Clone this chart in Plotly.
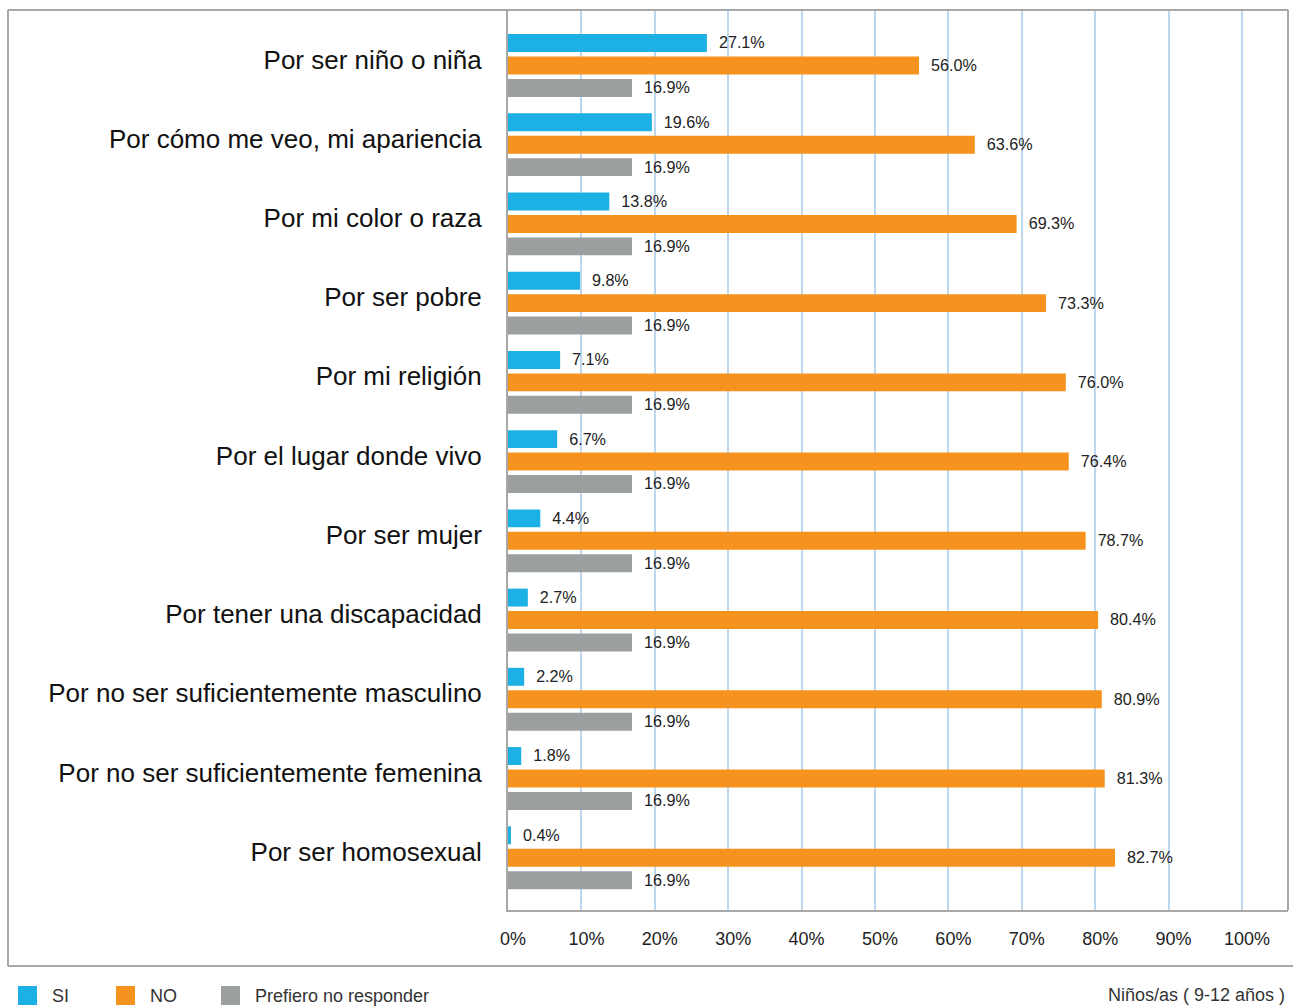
import plotly.graph_objects as go

categories = [
    "Por ser niño o niña",
    "Por cómo me veo, mi apariencia",
    "Por mi color o raza",
    "Por ser pobre",
    "Por mi religión",
    "Por el lugar donde vivo",
    "Por ser mujer",
    "Por tener una discapacidad",
    "Por no ser suficientemente masculino",
    "Por no ser suficientemente femenina",
    "Por ser homosexual",
]
si_values = [27.1, 19.6, 13.8, 9.8, 7.1, 6.7, 4.4, 2.7, 2.2, 1.8, 0.4]
no_values = [56.0, 63.6, 69.3, 73.3, 76.0, 76.4, 78.7, 80.4, 80.9, 81.3, 82.7]
nr_values = [16.9] * 11
series_names = ["SI", "NO", "Prefiero no responder"]
series_colors = ["#1cb0e4", "#f6931f", "#9c9fa0"]
tick_vals = [0, 10, 20, 30, 40, 50, 60, 70, 80, 90, 100]
tick_text = ["0%", "10%", "20%", "30%", "40%", "50%", "60%", "70%", "80%", "90%", "100%"]
note = "Niños/as ( 9-12 años )"

FONT = "Liberation Sans"
W, H = 1302, 1006
L, R, T, B = 508, 14, 10, 96

fig = go.Figure()
for name, vals, col in zip(series_names, [si_values, no_values, nr_values], series_colors):
    fig.add_trace(go.Bar(
        y=categories, x=vals, name=name, orientation="h",
        marker=dict(color=col, line=dict(width=0)),
        text=vals, texttemplate="  %{x:.1f}%", textposition="outside",
        textfont=dict(family=FONT, size=18, color="#222222"),
        cliponaxis=False, showlegend=False,
    ))

pw = W - L - R
ph = H - T - B

def px2paper_x(px):
    return (px - L) / pw

def px2paper_y(py):
    return (H - B - py) / ph

line_col = "#a8a8a8"
shapes = [
    dict(type="line", xref="paper", yref="paper", x0=px2paper_x(8), x1=px2paper_x(1288),
         y0=px2paper_y(10), y1=px2paper_y(10), line=dict(color=line_col, width=2)),
    dict(type="line", xref="paper", yref="paper", x0=px2paper_x(8), x1=px2paper_x(8),
         y0=px2paper_y(10), y1=px2paper_y(966), line=dict(color=line_col, width=2)),
    dict(type="line", xref="paper", yref="paper", x0=px2paper_x(8), x1=px2paper_x(1293),
         y0=px2paper_y(966), y1=px2paper_y(966), line=dict(color=line_col, width=2)),
    dict(type="line", xref="paper", yref="paper", x0=px2paper_x(1288), x1=px2paper_x(1288),
         y0=px2paper_y(10), y1=px2paper_y(910), line=dict(color=line_col, width=2)),
]

annotations = []
# legend (manual, to match the square swatches)
legend_swatch_x = [18, 116, 221]
legend_text_x = [50, 148, 253]
for name, col, sx, tx in zip(series_names, series_colors, legend_swatch_x, legend_text_x):
    shapes.append(dict(type="rect", xref="paper", yref="paper",
                       x0=px2paper_x(sx), x1=px2paper_x(sx + 19),
                       y0=px2paper_y(986), y1=px2paper_y(1005),
                       fillcolor=col, line=dict(width=0)))
    annotations.append(dict(text=name, xref="paper", yref="paper",
                            x=px2paper_x(tx), y=px2paper_y(996),
                            xanchor="left", yanchor="middle", showarrow=False,
                            font=dict(family=FONT, size=18, color="#333333")))

annotations.append(dict(
    text=note, xref="paper", yref="paper", x=px2paper_x(1287), y=px2paper_y(995),
    xanchor="right", yanchor="middle", showarrow=False,
    font=dict(family=FONT, size=18, color="#333333"),
))

fig.update_layout(
    width=W, height=H,
    margin=dict(l=L, r=R, t=T, b=B, autoexpand=False),
    paper_bgcolor="white", plot_bgcolor="white",
    barmode="group", bargap=0.15, bargroupgap=0.2,
    font=dict(family=FONT, color="#222222"),
    shapes=shapes,
    annotations=annotations,
    showlegend=False,
)
fig.update_xaxes(
    range=[0, 106.27], tickvals=tick_vals, ticktext=tick_text,
    showgrid=True, gridcolor="#bdd7ee", gridwidth=2,
    showline=True, linecolor=line_col, linewidth=2,
    zeroline=False, ticks="", ticklabelstandoff=11, ticklabelshift=5,
    tickfont=dict(family=FONT, size=18, color="#222222"),
)
fig.update_yaxes(
    categoryorder="array", categoryarray=categories,
    range=[10.66, -0.70],
    showgrid=False, showline=True, linecolor=line_col, linewidth=2,
    ticks="", ticklabelstandoff=19, ticklabelshift=6,
    tickfont=dict(family=FONT, size=26, color="#111111"),
)

fig.write_html("out.html", config={"displayModeBar": False},
               post_script="document.body.style.margin='0';document.body.style.overflow='hidden';")
